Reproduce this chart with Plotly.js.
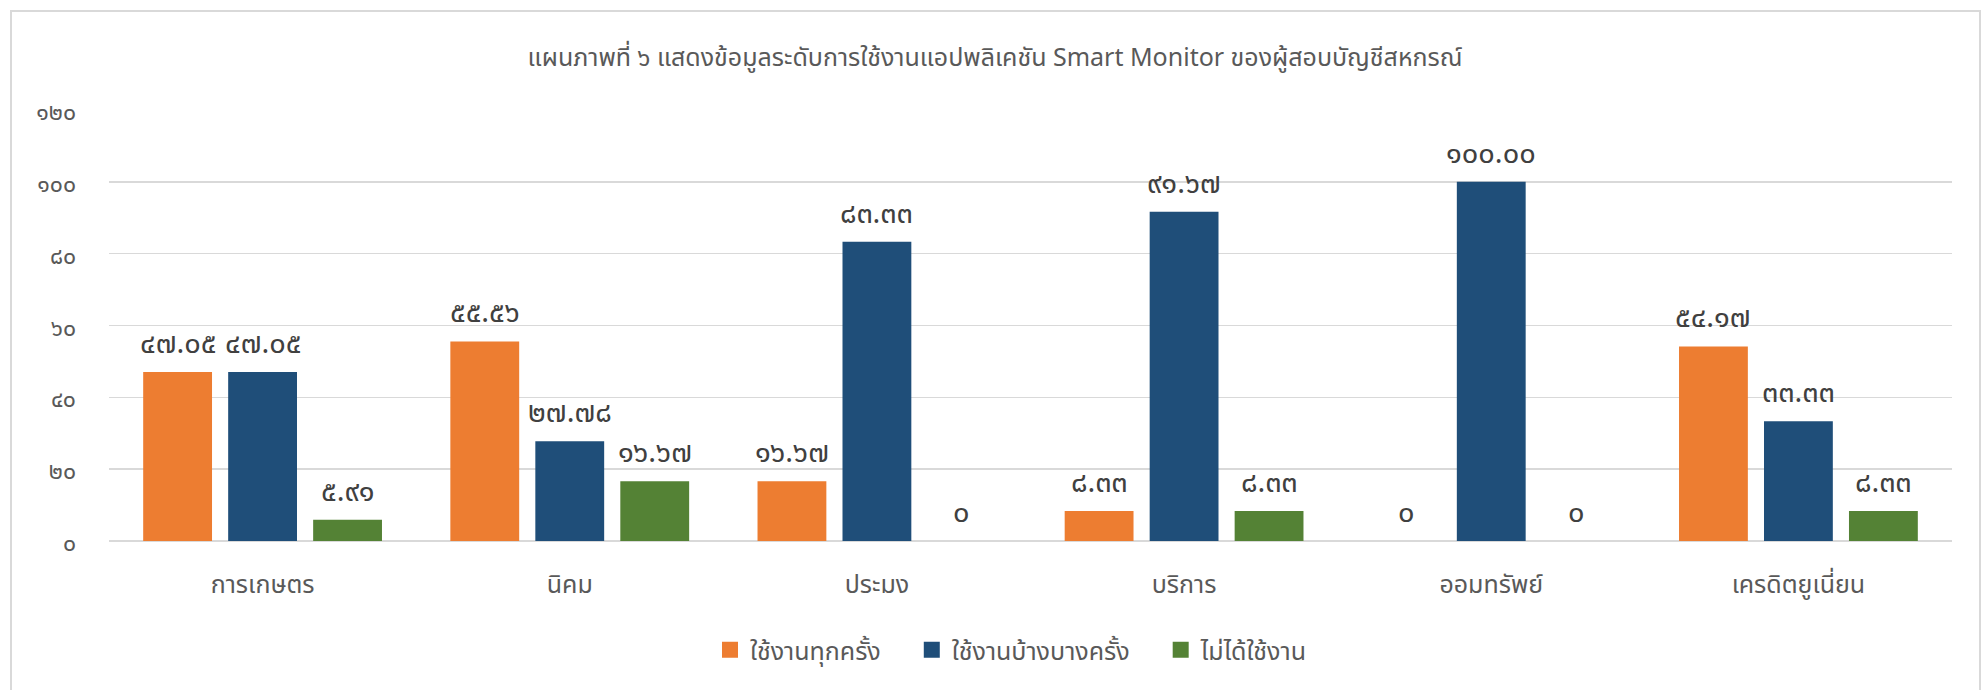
<!DOCTYPE html>
<html>
<head>
<meta charset="utf-8">
<script src="https://cdn.plot.ly/plotly-3.0.1.min.js"></script>
<style>
  html, body { margin: 0; padding: 0; background: #ffffff; width: 1986px; height: 690px; overflow: hidden; }
  #frame { position: absolute; left: 10px; top: 10px; width: 1971px; height: 700px; border: 2px solid #d9d9d9; box-sizing: border-box; }
  #chart { position: absolute; left: 0; top: 0; width: 1986px; height: 690px; }
</style>
</head>
<body>
<div id="frame"></div>
<div id="chart"></div>
<script>
const categories = ["การเกษตร", "นิคม", "ประมง", "บริการ", "ออมทรัพย์", "เครดิตยูเนี่ยน"];
const seriesNames = ["ใช้งานทุกครั้ง", "ใช้งานบ้างบางครั้ง", "ไม่ได้ใช้งาน"];
const alwaysUse = [47.05, 55.56, 16.67, 8.33, 0, 54.17];
const sometimesUse = [47.05, 27.78, 83.33, 91.67, 100.00, 33.33];
const neverUse = [5.91, 16.67, 0, 8.33, 0, 8.33];
const yTickVals = [0, 20, 40, 60, 80, 100, 120];
const yTickText = ["๐", "๒๐", "๔๐", "๖๐", "๘๐", "๑๐๐", "๑๒๐"];

const colors = ["#ED7D31", "#1F4E79", "#548235"];
const FONT = "'Noto Sans Thai', 'Noto Sans Thai UI', Tahoma, 'Noto Sans', sans-serif";
const thaiDigits = "๐๑๒๓๔๕๖๗๘๙";
function toThai(v) {
  const s = v === 0 ? "0" : v.toFixed(2);
  return s.replace(/[0-9]/g, d => thaiDigits[+d]);
}

const series = [alwaysUse, sometimesUse, neverUse];
const bargap = 0.17, bargroupgap = 0.19;
const slot = (1 - bargap) / series.length;

const traces = series.map((vals, i) => ({
  type: "bar",
  name: seriesNames[i],
  x: categories,
  y: vals,
  marker: { color: colors[i], line: { width: 0 } },
  showlegend: false,
  hoverinfo: "skip"
}));

// legend entries with larger square symbols
const pad = "\u00a0\u00a0\u00a0\u00a0";
series.forEach((vals, i) => {
  traces.push({
    type: "scatter",
    mode: "markers",
    name: seriesNames[i] + (i < series.length - 1 ? pad : ""),
    x: [null], y: [null],
    marker: { color: colors[i], symbol: "square", size: 18 },
    showlegend: true,
    hoverinfo: "skip"
  });
});

const annotations = [];
series.forEach((vals, i) => {
  vals.forEach((v, j) => {
    annotations.push({
      x: j + (i - 1) * slot,
      y: v,
      xref: "x", yref: "y",
      text: toThai(v),
      showarrow: false,
      yanchor: "bottom",
      yshift: 4,
      font: { family: FONT, size: 29, color: "#404040" }
    });
  });
});

const layout = {
  width: 1986, height: 690,
  paper_bgcolor: "rgba(0,0,0,0)",
  plot_bgcolor: "rgba(0,0,0,0)",
  margin: { l: 109, r: 34, t: 110, b: 149 },
  title: {
    text: "แผนภาพที่ ๖ แสดงข้อมูลระดับการใช้งานแอปพลิเคชัน Smart Monitor ของผู้สอบบัญชีสหกรณ์",
    font: { family: FONT, size: 25, color: "#595959" },
    x: 995 / 1986, xref: "container", xanchor: "center",
    y: 1 - 57 / 690, yref: "container", yanchor: "middle"
  },
  barmode: "group",
  bargap: bargap,
  bargroupgap: bargroupgap,
  xaxis: {
    type: "category",
    showgrid: false,
    showline: false,
    zeroline: false,
    ticks: "",
    ticklabelstandoff: 26,
    tickfont: { family: FONT, size: 25, color: "#595959" }
  },
  yaxis: {
    range: [0, 120],
    tickmode: "array",
    tickvals: yTickVals,
    ticktext: yTickText,
    showgrid: true,
    gridcolor: "#d9d9d9",
    gridwidth: 1.5,
    zeroline: true,
    zerolinecolor: "#d9d9d9",
    zerolinewidth: 1.5,
    showline: false,
    ticks: "",
    ticklabelstandoff: 32,
    ticklabelshift: 2,
    tickfont: { family: FONT, size: 23, color: "#595959" }
  },
  legend: {
    orientation: "h",
    x: (1011 - 109) / 1843, xanchor: "center",
    y: (541 - 650) / 431, yanchor: "middle",
    itemsizing: "trace",
    font: { family: FONT, size: 25, color: "#595959" },
    itemclick: false, itemdoubleclick: false
  },
  annotations: annotations,
  showlegend: true
};

Plotly.newPlot("chart", traces, layout, { displayModeBar: false, staticPlot: true });
</script>
</body>
</html>
